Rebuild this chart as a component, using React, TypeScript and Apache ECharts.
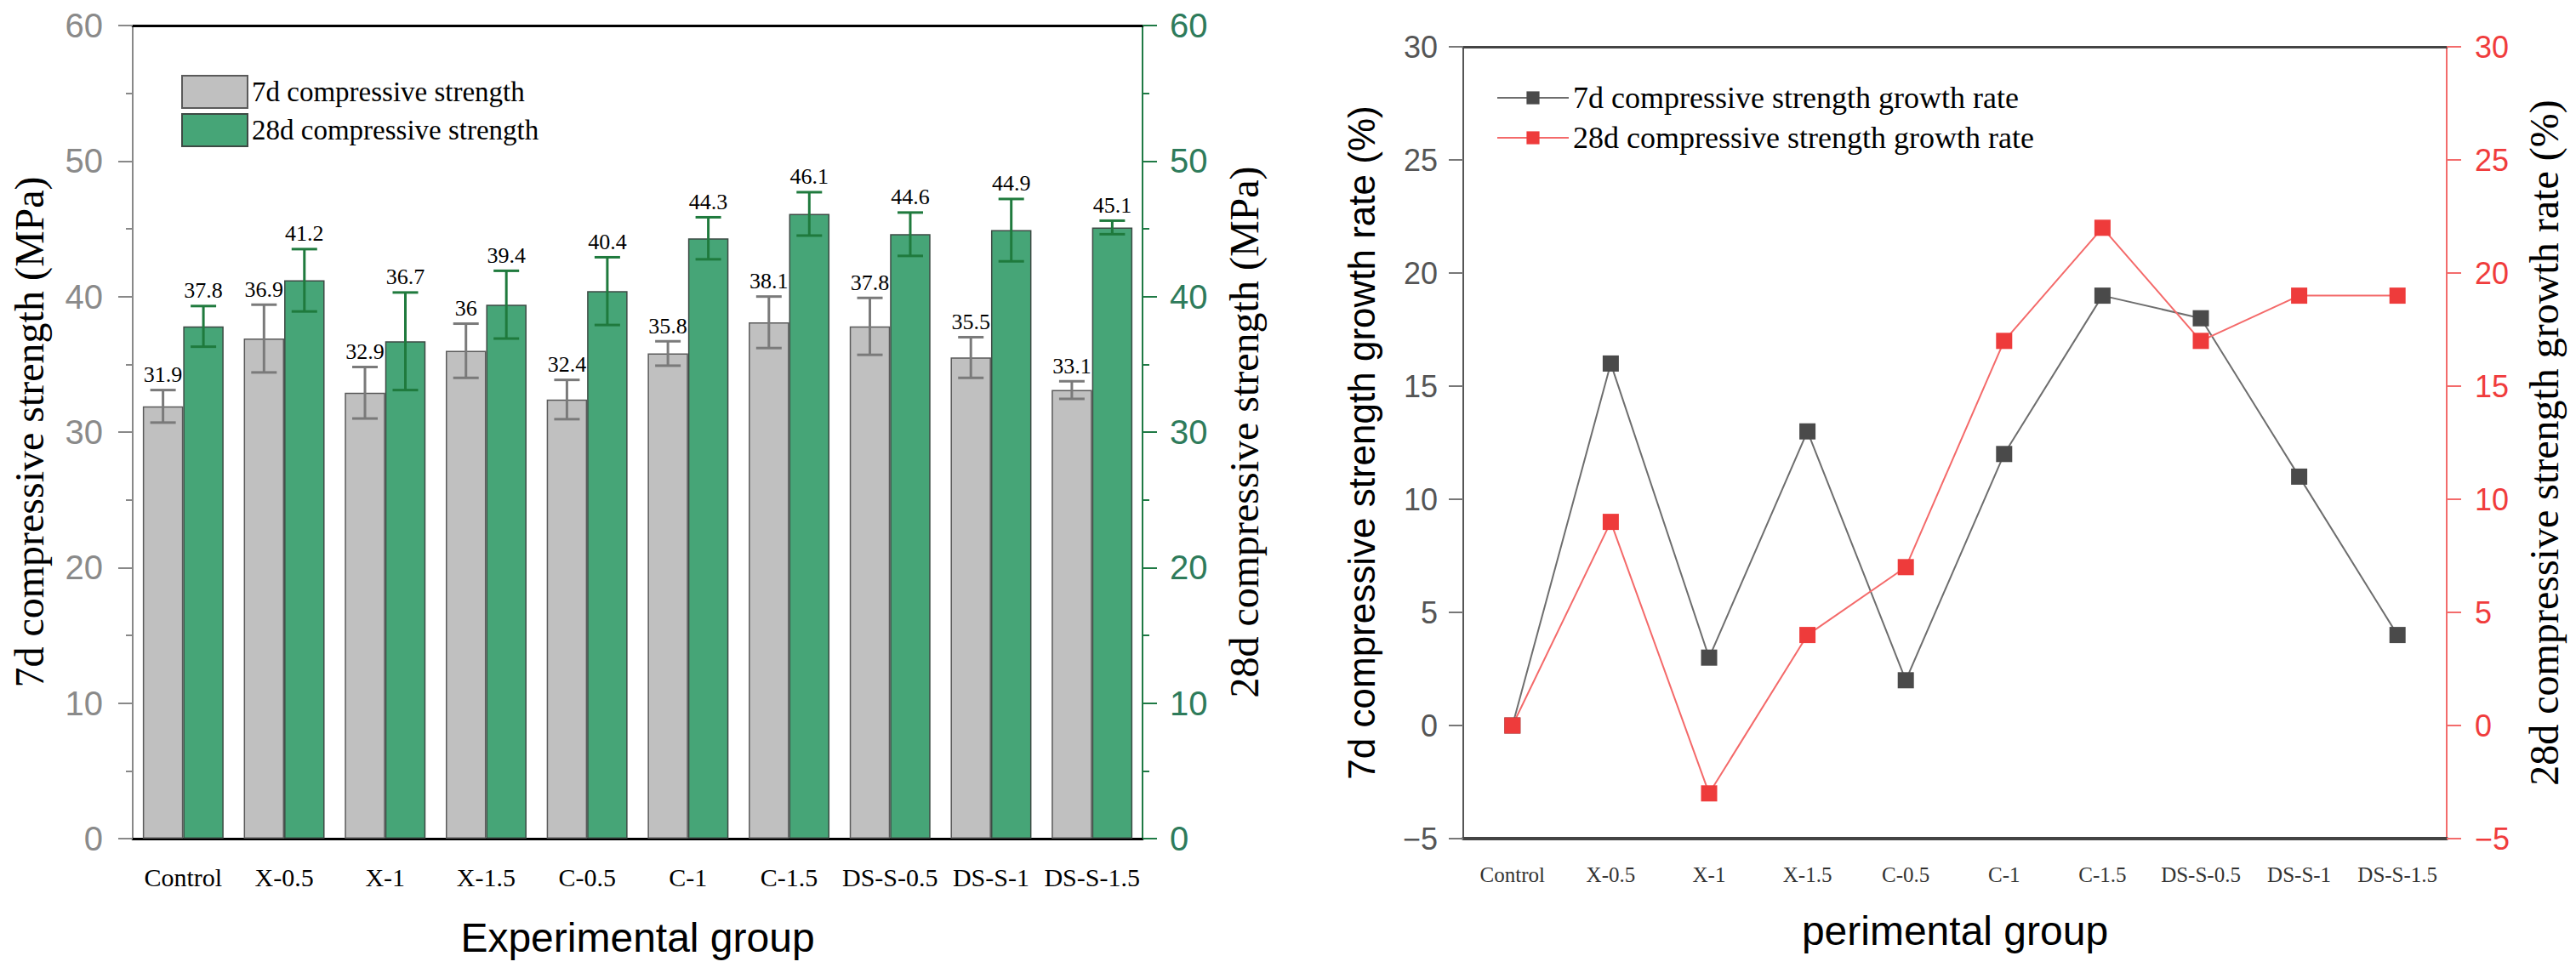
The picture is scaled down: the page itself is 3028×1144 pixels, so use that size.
import { useEffect, useRef } from "react";
import * as echarts from "echarts";

const categories = ["Control", "X-0.5", "X-1", "X-1.5", "C-0.5", "C-1", "C-1.5", "DS-S-0.5", "DS-S-1", "DS-S-1.5"];
const strength7d = [31.9, 36.9, 32.9, 36, 32.4, 35.8, 38.1, 37.8, 35.5, 33.1];
const strength28d = [37.8, 41.2, 36.7, 39.4, 40.4, 44.3, 46.1, 44.6, 44.9, 45.1];
const error7d = [1.2, 2.5, 1.9, 2.0, 1.45, 0.9, 1.9, 2.1, 1.5, 0.65];
const error28d = [1.5, 2.3, 3.6, 2.5, 2.5, 1.55, 1.6, 1.6, 2.3, 0.5];
const growth7d = [0, 16, 3, 13, 2, 12, 19, 18, 11, 4];
const growth28d = [0, 9, -3, 4, 7, 17, 22, 17, 19, 19];

const SERIF = '"Liberation Serif", "Times New Roman", serif';
const SANS = '"Liberation Sans", Arial, sans-serif';
const NARROW = '"Liberation Sans Narrow", "Arial Narrow", "Liberation Sans", sans-serif';

const GRAY_FILL = "#c0c0c0";
const GREEN_FILL = "#46a577";
const GREEN_AXIS = "#1f7a45";
const RED_AXIS = "#f36b6b";

// error bar + value label, shifted to the left (-1) or right (+1) bar of the pair
function errorBar(side: number, color: string) {
  return (params: any, api: any) => {
    const idx = api.value(0);
    const val = api.value(1);
    const err = api.value(2);
    const band = api.size([1, 0])[0];
    const x = api.coord([idx, val])[0] + side * band * 0.2;
    const yTop = api.coord([idx, val + err])[1];
    const yBot = api.coord([idx, val - err])[1];
    const cap = 15;
    const line = { stroke: color, lineWidth: 3 };
    return {
      type: "group",
      children: [
        { type: "line", shape: { x1: x, y1: yTop, x2: x, y2: yBot }, style: line },
        { type: "line", shape: { x1: x - cap, y1: yTop, x2: x + cap, y2: yTop }, style: line },
        { type: "line", shape: { x1: x - cap, y1: yBot, x2: x + cap, y2: yBot }, style: line },
        {
          type: "text",
          style: {
            text: String(val),
            x,
            y: yTop - 5,
            align: "center",
            verticalAlign: "bottom",
            fontFamily: SERIF,
            fontSize: 26,
            fill: "#000",
          },
        },
      ],
    };
  };
}

const minus = (v: number) => String(v).replace("-", "\u2212");

export default function App() {
  const chartRef = useRef<HTMLDivElement>(null);

  useEffect(() => {
    if (!chartRef.current) return;
    const chart = echarts.init(chartRef.current, null, { renderer: "svg" });

    chart.setOption({
      animation: false,
      backgroundColor: "#fff",
      grid: [
        { left: 156, top: 30, width: 1187, height: 956 },
        { left: 1720, top: 55, width: 1156, height: 931 },
      ],
      legend: [
        {
          data: ["7d compressive strength", "28d compressive strength"],
          left: 208,
          top: 83,
          orient: "vertical",
          icon: "rect",
          itemWidth: 77,
          itemHeight: 38,
          itemGap: 5,
          textStyle: { fontFamily: SERIF, fontSize: 33, color: "#000" },
        },
        {
          data: ["7d compressive strength growth rate", "28d compressive strength growth rate"],
          left: 1754,
          top: 90,
          orient: "vertical",
          itemWidth: 84,
          itemHeight: 19,
          itemGap: 7,
          textStyle: { fontFamily: SERIF, fontSize: 36, lineHeight: 40, color: "#000" },
        },
      ],
      xAxis: [
        {
          gridIndex: 0,
          type: "category",
          data: categories,
          position: "bottom",
          axisLine: { onZero: false, lineStyle: { color: "#000", width: 3 } },
          axisTick: { alignWithLabel: true, length: 17, lineStyle: { color: "#000", width: 3 } },
          axisLabel: { fontFamily: SERIF, fontSize: 30, color: "#000", margin: 30, interval: 0 },
          name: "Experimental group",
          nameLocation: "middle",
          nameGap: 92,
          nameTextStyle: { fontFamily: SANS, fontSize: 48, color: "#000" },
        },
        {
          gridIndex: 0,
          type: "category",
          data: categories,
          position: "bottom",
          axisLine: { show: false, onZero: false },
          axisTick: { length: 8, lineStyle: { color: "#000", width: 3 } },
          axisLabel: { show: false },
        },
        {
          gridIndex: 0,
          type: "category",
          data: categories,
          position: "top",
          axisLine: { onZero: false, lineStyle: { color: "#000", width: 3 } },
          axisTick: { show: false },
          axisLabel: { show: false },
        },
        {
          gridIndex: 1,
          type: "category",
          data: categories,
          position: "bottom",
          axisLine: { onZero: false, lineStyle: { color: "#444", width: 4 } },
          axisTick: { alignWithLabel: true, length: 17, lineStyle: { color: "#333", width: 2 } },
          axisLabel: { fontFamily: SERIF, fontSize: 25, color: "#333", margin: 30, interval: 0 },
          name: "perimental group",
          nameLocation: "middle",
          nameGap: 84,
          nameTextStyle: { fontFamily: SANS, fontSize: 48, color: "#000" },
        },
        {
          gridIndex: 1,
          type: "category",
          data: categories,
          position: "top",
          axisLine: { onZero: false, lineStyle: { color: "#444", width: 3 } },
          axisTick: { show: false },
          axisLabel: { show: false },
        },
      ],
      yAxis: [
        {
          gridIndex: 0,
          type: "value",
          position: "left",
          min: 0,
          max: 60,
          interval: 10,
          splitLine: { show: false },
          axisLine: { show: true, lineStyle: { color: "#888", width: 2 } },
          axisTick: { show: true, length: 17, lineStyle: { color: "#888", width: 2 } },
          minorTick: { show: true, splitNumber: 2, length: 8, lineStyle: { color: "#888", width: 2 } },
          axisLabel: { fontFamily: NARROW, fontSize: 40, color: "#8a8a8a", margin: 35 },
          name: "7d compressive strength (MPa)",
          nameLocation: "middle",
          nameGap: 98,
          nameTextStyle: { fontFamily: SERIF, fontSize: 48, color: "#000" },
        },
        {
          gridIndex: 0,
          type: "value",
          position: "right",
          min: 0,
          max: 60,
          interval: 10,
          splitLine: { show: false },
          axisLine: { show: true, lineStyle: { color: GREEN_AXIS, width: 2 } },
          axisTick: { show: true, length: 17, lineStyle: { color: GREEN_AXIS, width: 2 } },
          minorTick: { show: true, splitNumber: 2, length: 8, lineStyle: { color: GREEN_AXIS, width: 2 } },
          axisLabel: { fontFamily: NARROW, fontSize: 40, color: "#2e7b5b", margin: 32 },
          name: "28d compressive strength (MPa)",
          nameLocation: "middle",
          nameGap: 95,
          nameTextStyle: { fontFamily: SERIF, fontSize: 48, color: "#000" },
        },
        {
          gridIndex: 1,
          type: "value",
          position: "left",
          min: -5,
          max: 30,
          interval: 5,
          splitLine: { show: false },
          axisLine: { show: true, lineStyle: { color: "#555", width: 2 } },
          axisTick: { show: true, length: 17, lineStyle: { color: "#777", width: 2 } },
          axisLabel: { fontFamily: SANS, fontSize: 36, color: "#555", margin: 30, formatter: minus },
          name: "7d compressive strength growth rate (%)",
          nameLocation: "middle",
          nameGap: 98,
          nameTextStyle: { fontFamily: SANS, fontSize: 44, color: "#000" },
        },
        {
          gridIndex: 1,
          type: "value",
          position: "right",
          min: -5,
          max: 30,
          interval: 5,
          splitLine: { show: false },
          axisLine: { show: true, lineStyle: { color: RED_AXIS, width: 2 } },
          axisTick: { show: true, length: 17, lineStyle: { color: RED_AXIS, width: 2 } },
          axisLabel: { fontFamily: SANS, fontSize: 36, color: "#f03c3c", margin: 33, formatter: minus },
          name: "28d compressive strength growth rate (%)",
          nameLocation: "middle",
          nameGap: 90,
          nameTextStyle: { fontFamily: SERIF, fontSize: 48, color: "#000" },
        },
      ],
      series: [
        {
          name: "7d compressive strength",
          type: "bar",
          xAxisIndex: 0,
          yAxisIndex: 0,
          data: strength7d,
          barGap: "0%",
          barCategoryGap: "20%",
          itemStyle: { color: GRAY_FILL, borderColor: "#5a5a5a", borderWidth: 1.5 },
        },
        {
          name: "28d compressive strength",
          type: "bar",
          xAxisIndex: 0,
          yAxisIndex: 1,
          data: strength28d,
          barGap: "0%",
          barCategoryGap: "20%",
          itemStyle: { color: GREEN_FILL, borderColor: "#3d4a44", borderWidth: 1.5 },
        },
        {
          type: "custom",
          xAxisIndex: 0,
          yAxisIndex: 0,
          renderItem: errorBar(-1, "#7a7a7a"),
          data: strength7d.map((v, i) => [i, v, error7d[i]]),
          z: 5,
        },
        {
          type: "custom",
          xAxisIndex: 0,
          yAxisIndex: 1,
          renderItem: errorBar(1, "#1f7a3d"),
          data: strength28d.map((v, i) => [i, v, error28d[i]]),
          z: 5,
        },
        {
          name: "7d compressive strength growth rate",
          type: "line",
          xAxisIndex: 3,
          yAxisIndex: 2,
          data: growth7d,
          symbol: "rect",
          symbolSize: 19,
          lineStyle: { color: "#6e6e6e", width: 2 },
          itemStyle: { color: "#4a4a4a" },
        },
        {
          name: "28d compressive strength growth rate",
          type: "line",
          xAxisIndex: 3,
          yAxisIndex: 3,
          data: growth28d,
          symbol: "rect",
          symbolSize: 19,
          lineStyle: { color: "#f46a6a", width: 2 },
          itemStyle: { color: "#ee3b3b" },
        },
      ],
    });

    return () => {
      chart.dispose();
    };
  }, []);

  return (
    <div
      ref={chartRef}
      style={{ position: "absolute", left: 0, top: 0, width: 3028, height: 1144 }}
    />
  );
}
